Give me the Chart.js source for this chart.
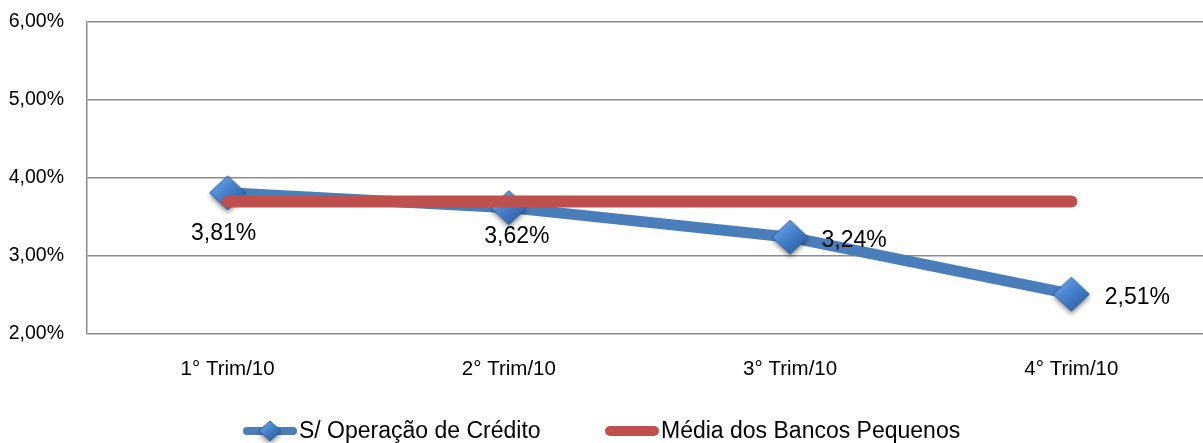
<!DOCTYPE html>
<html>
<head>
<meta charset="utf-8">
<script src="https://cdn.jsdelivr.net/npm/chart.js@4/dist/chart.umd.min.js"></script>
<style>
  html, body { margin: 0; padding: 0; background: #ffffff; overflow: hidden; }
  #wrap { width: 1212px; height: 453px; }
</style>
</head>
<body>
<div id="wrap"><canvas id="chart" width="1212" height="453"></canvas></div>
<script>
const categories = ['1° Trim/10', '2° Trim/10', '3° Trim/10', '4° Trim/10'];
const creditValues = [3.81, 3.62, 3.24, 2.51];
const smallBanksAverage = [3.70, 3.70, 3.70, 3.70];
const seriesNames = ['S/ Operação de Crédito', 'Média dos Bancos Pequenos'];
const yMin = 2, yMax = 6, yStep = 1;

const FONT = '"Liberation Sans", Arial, sans-serif';
const BLUE = '#4a7ebb';
const RED = '#c0504d';

// label offsets from each point, in px
const labelOffsets = [[-4, 41], [8, 29], [64, 3], [66, 3]];
// legend: left edge of each entry, and its middle row
const legendX = [243, 605];
const legendY = 431;

const fmtPct = v => v.toFixed(2).replace('.', ',') + '%';

function diamond(ctx, cx, cy, hw, hh) {
    ctx.beginPath();
    ctx.moveTo(cx, cy - hh);
    ctx.lineTo(cx + hw, cy);
    ctx.lineTo(cx, cy + hh);
    ctx.lineTo(cx - hw, cy);
    ctx.closePath();
}

function makeMarker(hw, hh) {
    const c = document.createElement('canvas');
    c.width = hw * 2 + 12;
    c.height = hh * 2 + 14;
    const ctx = c.getContext('2d');
    const cx = c.width / 2, cy = c.height / 2;
    const g = ctx.createLinearGradient(cx - hw, cy - hh, cx + hw * 0.6, cy + hh);
    g.addColorStop(0, '#7db2f0');
    g.addColorStop(0.45, '#4a86d2');
    g.addColorStop(1, '#2a5d9e');
    ctx.shadowColor = 'rgba(0,0,0,0.45)';
    ctx.shadowBlur = 5;
    ctx.shadowOffsetY = 3;
    diamond(ctx, cx, cy, hw, hh);
    ctx.fillStyle = g;
    ctx.fill();
    ctx.shadowColor = 'transparent';
    ctx.lineWidth = 1;
    ctx.strokeStyle = '#2d6098';
    ctx.stroke();
    return c;
}

const pointMarker = makeMarker(18, 17);
const legendMarker = makeMarker(11, 10);

const valueLabels = {
    id: 'valueLabels',
    afterDatasetsDraw(chart) {
        const meta = chart.getDatasetMeta(0);
        const ctx = chart.ctx;
        ctx.save();
        ctx.font = '23px ' + FONT;
        ctx.fillStyle = '#000000';
        ctx.textAlign = 'center';
        ctx.textBaseline = 'middle';
        meta.data.forEach((pt, i) => {
            const off = labelOffsets[i];
            ctx.fillText(fmtPct(creditValues[i]), pt.x + off[0], pt.y + off[1]);
        });
        ctx.restore();
    }
};

// bottom legend: thick line swatch (with marker for the blue series) + name
const lineLegend = {
    id: 'lineLegend',
    afterDraw(chart) {
        const ctx = chart.ctx;
        const ds = chart.data.datasets;
        ctx.save();
        ctx.lineCap = 'round';
        ctx.font = '23px ' + FONT;
        ctx.fillStyle = '#000000';
        ctx.textBaseline = 'middle';
        ds.forEach((d, i) => {
            const x = legendX[i];
            const lw = i === 0 ? 8 : 10;
            ctx.strokeStyle = d.borderColor;
            ctx.lineWidth = lw;
            ctx.beginPath();
            ctx.moveTo(x + lw / 2, legendY);
            ctx.lineTo(x + 54 - lw / 2, legendY);
            ctx.stroke();
            if (i === 0) {
                ctx.drawImage(legendMarker, x + 27 - legendMarker.width / 2, legendY - legendMarker.height / 2);
            }
            ctx.fillText(d.label, x + 56, legendY + 1);
        });
        ctx.restore();
    }
};

new Chart(document.getElementById('chart').getContext('2d'), {
    type: 'line',
    data: {
        labels: categories,
        datasets: [{
            label: seriesNames[0],
            data: creditValues,
            borderColor: BLUE,
            borderWidth: 11,
            pointStyle: pointMarker,
            pointRadius: 18,
            order: 1,
            tension: 0
        }, {
            label: seriesNames[1],
            data: smallBanksAverage,
            borderColor: RED,
            borderWidth: 12,
            borderCapStyle: 'round',
            pointRadius: 0,
            order: 0,
            tension: 0
        }]
    },
    options: {
        responsive: false,
        animation: false,
        devicePixelRatio: 1,
        events: [],
        layout: {
            autoPadding: false,
            padding: { top: 22, right: 0, bottom: 72, left: 0 }
        },
        plugins: {
            tooltip: { enabled: false },
            legend: { display: false }
        },
        scales: {
            x: {
                offset: true,
                grid: { display: false, drawTicks: false },
                border: { display: false },
                ticks: {
                    color: '#000000',
                    font: { family: FONT, size: 20.5 },
                    padding: 23,
                    maxRotation: 0,
                    autoSkip: false
                },
                afterFit: scale => { scale.height = 47; }
            },
            y: {
                min: yMin,
                max: yMax,
                grid: { color: '#8c8c8c', lineWidth: 1.5, drawTicks: false },
                border: { display: true, color: '#8c8c8c', width: 1.5 },
                ticks: {
                    stepSize: yStep,
                    color: '#000000',
                    font: { family: FONT, size: 19.5 },
                    padding: 23,
                    callback: v => fmtPct(v)
                },
                afterFit: scale => {
                    scale.width = 87;
                    // labels may overhang the plot; don't reserve room for them
                    scale.paddingTop = 0;
                    scale.paddingBottom = 0;
                }
            }
        }
    },
    plugins: [valueLabels, lineLegend]
});
</script>
</body>
</html>
